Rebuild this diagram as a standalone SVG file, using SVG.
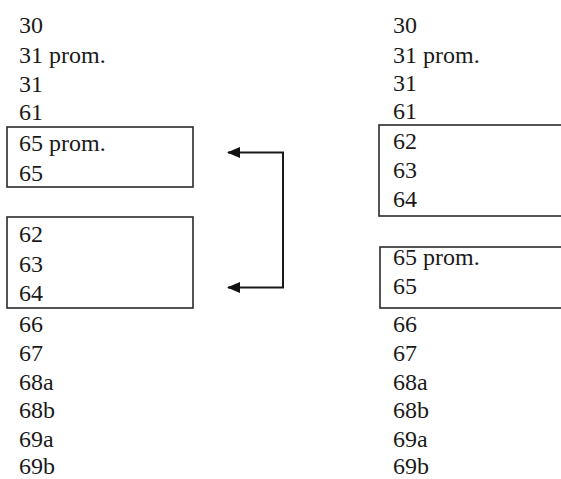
<svg xmlns="http://www.w3.org/2000/svg" width="561" height="479" viewBox="0 0 561 479">
<style>
.t { font-family: "Liberation Serif", "Times New Roman", "DejaVu Serif", serif; font-size: 24px; fill: #1a1a1a; }
.box { fill: none; stroke: #2a2a2a; stroke-width: 1.6; }
.conn { fill: none; stroke: #1a1a1a; stroke-width: 2; }
</style>
<defs>
<marker id="ah" markerWidth="13" markerHeight="11" refX="12" refY="5.5" orient="auto" markerUnits="userSpaceOnUse">
<path d="M0,0 L13,5.5 L0,11 Z" fill="#111"/>
</marker>
</defs>
<rect width="561" height="479" fill="#ffffff"/>
<g id="left-column" class="t">
<g id="l-30"><text x="19" y="33">30</text></g>
<g id="l-31prom"><text x="19" y="63">31 prom.</text></g>
<g id="l-31"><text x="19" y="92">31</text></g>
<g id="l-61"><text x="19" y="120">61</text></g>
<g id="l-box65">
<rect class="box" x="7" y="127" width="186" height="60"/>
<text x="19" y="151">65 prom.</text>
<text x="19" y="181">65</text>
</g>
<g id="l-box62">
<rect class="box" x="7" y="217" width="186" height="91"/>
<text x="19" y="242">62</text>
<text x="19" y="272">63</text>
<text x="19" y="301">64</text>
</g>
<g id="l-66"><text x="19" y="332">66</text></g>
<g id="l-67"><text x="19" y="361">67</text></g>
<g id="l-68a"><text x="19" y="390">68a</text></g>
<g id="l-68b"><text x="19" y="418">68b</text></g>
<g id="l-69a"><text x="19" y="447">69a</text></g>
<g id="l-69b"><text x="19" y="474">69b</text></g>
</g>
<g id="right-column" class="t">
<g id="r-30"><text x="393" y="33">30</text></g>
<g id="r-31prom"><text x="393" y="63">31 prom.</text></g>
<g id="r-31"><text x="393" y="91">31</text></g>
<g id="r-61"><text x="393" y="119">61</text></g>
<g id="r-box62">
<rect class="box" x="379" y="125" width="200" height="91"/>
<text x="393" y="149">62</text>
<text x="393" y="178">63</text>
<text x="393" y="207">64</text>
</g>
<g id="r-box65">
<rect class="box" x="380" y="247" width="200" height="61"/>
<text x="393" y="265">65 prom.</text>
<text x="393" y="294">65</text>
</g>
<g id="r-66"><text x="393" y="332">66</text></g>
<g id="r-67"><text x="393" y="361">67</text></g>
<g id="r-68a"><text x="393" y="390">68a</text></g>
<g id="r-68b"><text x="393" y="418">68b</text></g>
<g id="r-69a"><text x="393" y="447">69a</text></g>
<g id="r-69b"><text x="393" y="474">69b</text></g>
</g>
<g id="connectors">
<path class="conn" d="M283,220 L283,152.5 L228,152.5" marker-end="url(#ah)"/>
<path class="conn" d="M283,220 L283,287.5 L228,287.5" marker-end="url(#ah)"/>
</g>
</svg>
